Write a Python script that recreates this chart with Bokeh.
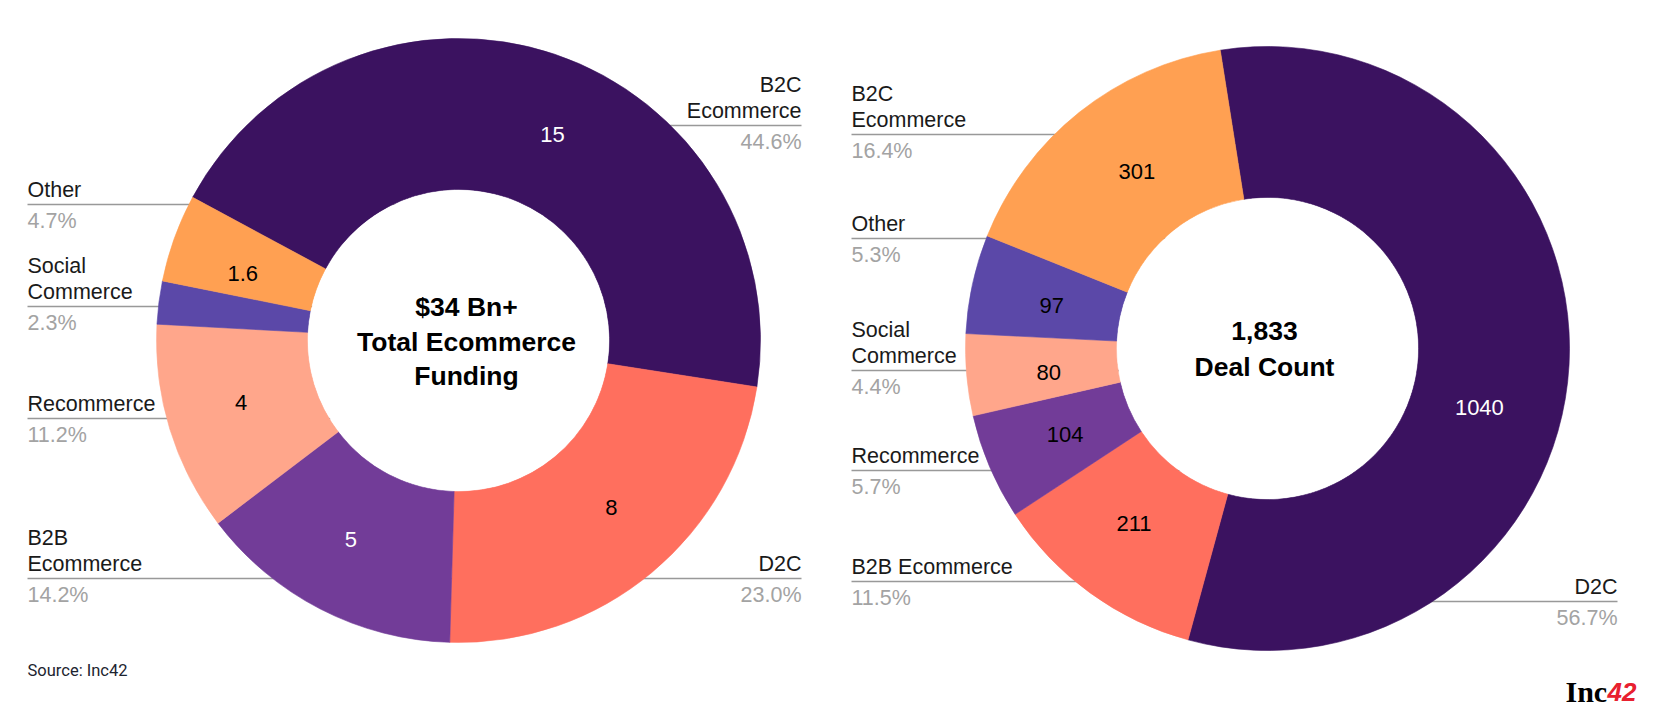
import numpy as np
from bokeh.plotting import figure
from bokeh.models import Range1d
from bokeh.embed import file_html
from bokeh.resources import INLINE
from bokeh.core.properties import value

# ---------------- data ----------------
FUND_CATEGORIES = ["B2C\nEcommerce", "D2C", "B2B\nEcommerce", "Recommerce", "Social\nCommerce", "Other"]
FUND_VALUES_BN = [15, 8, 5, 4, None, 1.6]
FUND_SHARE_PCT = [44.6, 23.0, 14.2, 11.2, 2.3, 4.7]
FUND_CENTER_TEXT = ["$34 Bn+", "Total Ecommerce", "Funding"]

DEAL_CATEGORIES = ["D2C", "B2B Ecommerce", "Recommerce", "Social\nCommerce", "Other", "B2C\nEcommerce"]
DEAL_COUNTS = [1040, 211, 104, 80, 97, 301]
DEAL_SHARE_PCT = [56.7, 11.5, 5.7, 4.4, 5.3, 16.4]
DEAL_CENTER_TEXT = ["1,833", "Deal Count"]

SOURCE_TEXT = "Source: Inc42"

# ---------------- style ----------------
DARK = "#3b1260"
CORAL = "#ff6f5e"
MPURP = "#723c98"
SALMON = "#ffa68b"
ORANGE = "#ffa052"
BPURP = "#5b48a8"
SLICE_COLORS = [DARK, CORAL, MPURP, SALMON, BPURP, ORANGE]
FUND_VALUE_COLORS = ["white", "black", "white", "black", "black", "black"]
DEAL_VALUE_COLORS = ["white", "black", "black", "black", "black", "black"]
LEADER = "#999999"
NAME_COLOR = "#1a1a1a"
PCT_COLOR = "#a3a3a3"
FONT = value("Liberation Sans")
H_PAGE = 727

FUND_LAYOUT = dict(cx=458, cy=340, r_out=302, r_in=151, start=151.7, label_r=226,
                   nudge=[-6, 2.8, -1.2, -1.2, 0, 2.5],
                   lines=[125, 578, 578, 418, 306, 204],
                   sides=["R", "R", "L", "L", "L", "L"], xl=27, xr=801,
                   center_x=466, center_y=[306, 341, 375])
DEAL_LAYOUT = dict(cx=1267, cy=348, r_out=302, r_in=151, start=99.0, label_r=220,
                   nudge=[-12.5, -1.4, 0, 1.3, 1.2, -2.1],
                   lines=[601, 581, 470, 370, 238, 134],
                   sides=["R", "L", "L", "L", "L", "L"], xl=851, xr=1617,
                   center_x=1264, center_y=[330, 366])


def Y(ry):
    return H_PAGE - ry


p = figure(width=1640, height=711, x_range=Range1d(0, 1640), y_range=Range1d(16, 727),
           output_backend="svg", toolbar_location=None, min_border=0,
           x_axis_location=None, y_axis_location=None)
p.grid.visible = False
p.outline_line_color = None
p.background_fill_color = "white"
p.border_fill_color = "white"


def donut(cats, angle_vals, pcts, shown_vals, vcolors, center_text, L):
    a = np.array(angle_vals, dtype=float)
    frac = a / a.sum()
    cum = np.concatenate([[0.0], np.cumsum(frac)])
    start = np.deg2rad(L["start"] - cum[:-1] * 360.0)
    end = np.deg2rad(L["start"] - cum[1:] * 360.0)
    cx, cy = L["cx"], Y(L["cy"])

    # leader lines + labels
    for i, cat in enumerate(cats):
        ly = L["lines"][i]
        if L["sides"][i] == "L":
            x0, x1, tx, align = L["xl"], cx, L["xl"], "left"
        else:
            x0, x1, tx, align = cx, L["xr"], L["xr"], "right"
        p.segment(x0=[x0], y0=[Y(ly)], x1=[x1], y1=[Y(ly)], line_color=LEADER, line_width=1.3)
        parts = cat.split("\n")
        for k, t in enumerate(reversed(parts)):
            p.text(x=[tx], y=[Y(ly - 14.5 - 26 * k)], text=[t], text_font=FONT,
                   text_font_size="21.5px", text_color=NAME_COLOR, text_align=align,
                   text_baseline="alphabetic")
        p.text(x=[tx], y=[Y(ly + 16.2)], text=[f"{pcts[i]:.1f}%"], text_font=FONT,
               text_font_size="21.5px", text_color=PCT_COLOR, text_align=align,
               text_baseline="alphabetic")

    p.annular_wedge(x=cx, y=cy, inner_radius=L["r_in"], outer_radius=L["r_out"],
                    start_angle=list(start), end_angle=list(end), direction="clock",
                    fill_color=SLICE_COLORS, line_color=SLICE_COLORS, line_width=0.6)
    p.circle(x=[cx], y=[cy], radius=L["r_in"] - 0.5, fill_color="white", line_color=None)

    mid = (start + end) / 2 + np.deg2rad(L["nudge"])
    for i, v in enumerate(shown_vals):
        if v is None:
            continue
        lx = cx + L["label_r"] * np.cos(mid[i])
        lyy = cy + L["label_r"] * np.sin(mid[i])
        p.text(x=[lx], y=[lyy], text=[f"{v:g}"], text_font=FONT, text_font_size="22px",
               text_color=vcolors[i], text_align="center", text_baseline="middle")

    for t, ty in zip(center_text, L["center_y"]):
        p.text(x=[L["center_x"]], y=[Y(ty)], text=[t], text_font=FONT, text_font_size="26.5px",
               text_font_style="bold", text_color="black", text_align="center",
               text_baseline="middle")


donut(FUND_CATEGORIES, FUND_SHARE_PCT, FUND_SHARE_PCT, FUND_VALUES_BN,
      FUND_VALUE_COLORS, FUND_CENTER_TEXT, FUND_LAYOUT)
donut(DEAL_CATEGORIES, DEAL_COUNTS, DEAL_SHARE_PCT, DEAL_COUNTS,
      DEAL_VALUE_COLORS, DEAL_CENTER_TEXT, DEAL_LAYOUT)

# source
p.text(x=[27], y=[Y(670)], text=[SOURCE_TEXT], text_font=value("Roboto"),
       text_font_size="16.5px", text_color="#1c2430", text_align="left",
       text_baseline="middle")

# logo
p.text(x=[1565], y=[Y(691)], text=["Inc"], text_font=value("Liberation Serif"),
       text_font_size="30px", text_font_style="bold", text_color="black",
       text_align="left", text_baseline="alphabetic")
p.text(x=[1607], y=[Y(691)], text=["42"], text_font=value("Liberation Sans"),
       text_font_size="26px", text_font_style="bold italic", text_color="#e8202f",
       text_align="left", text_baseline="alphabetic")

open("out.html", "w").write(file_html(p, INLINE))
